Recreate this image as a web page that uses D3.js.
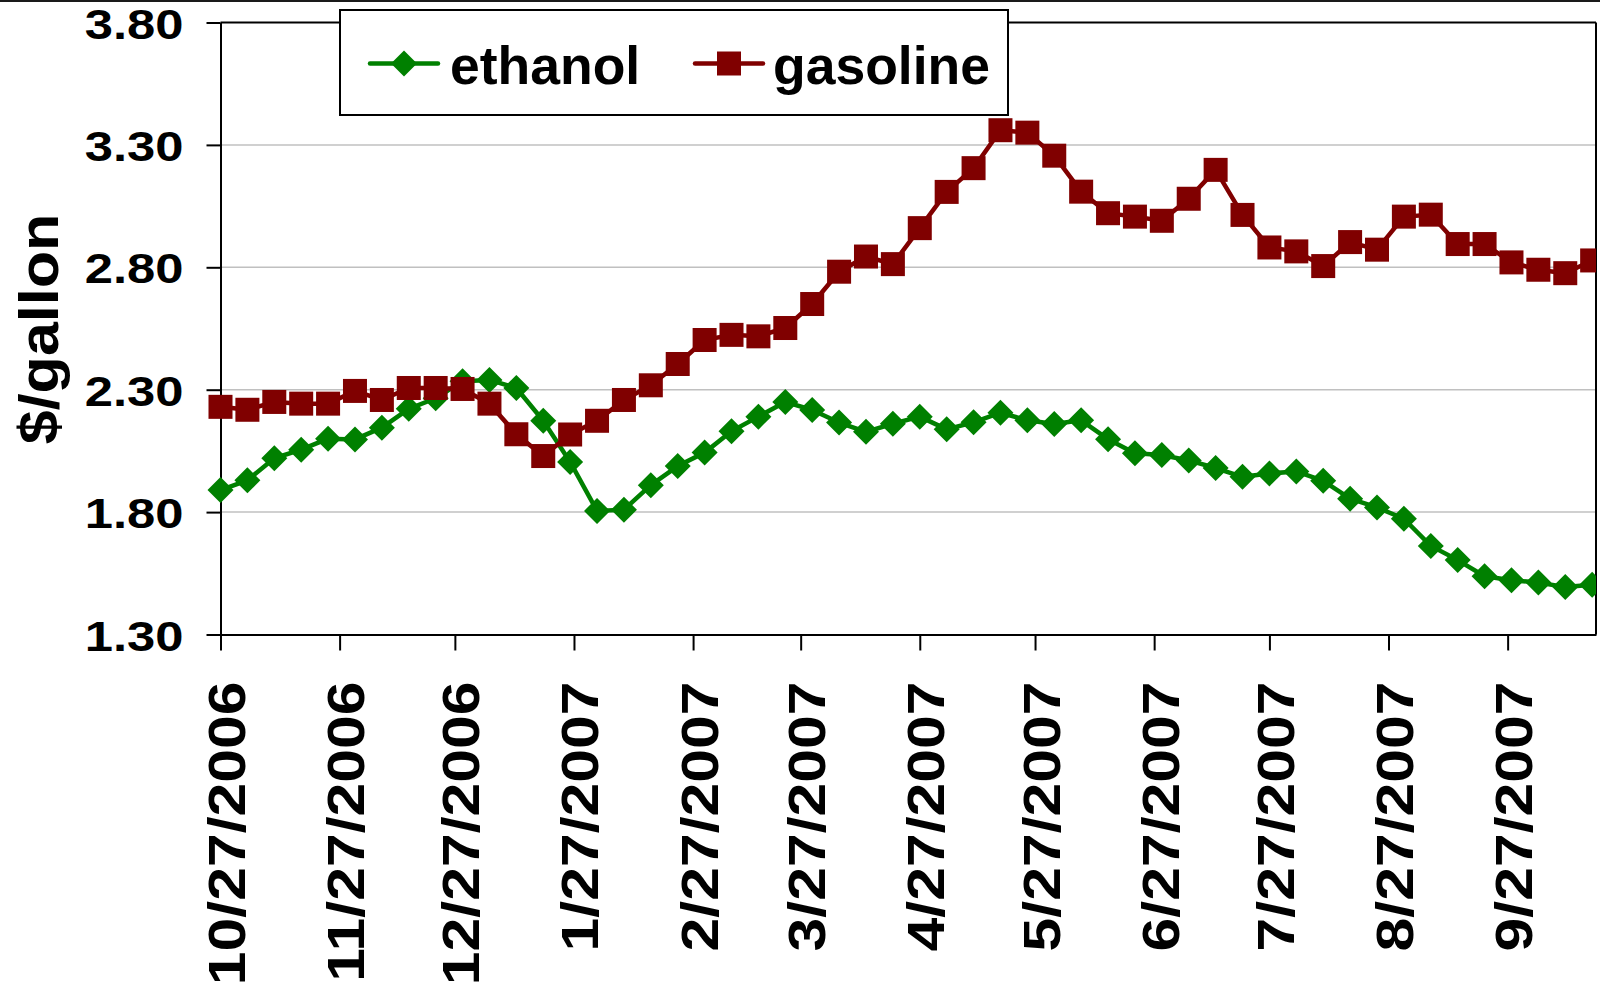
<!DOCTYPE html>
<html>
<head>
<meta charset="utf-8">
<script src="https://cdn.jsdelivr.net/npm/d3@7"></script>
<style>
  html, body { margin: 0; padding: 0; background: #fff; }
  svg { display: block; }
  text { font-family: "Liberation Sans", Arial, Helvetica, sans-serif; font-weight: bold; fill: #000; }
</style>
</head>
<body>
<svg id="chart" width="1600" height="984"></svg>
<script>
// ---------------- data ----------------
const dates = [
  "2006-10-27","2006-11-03","2006-11-10","2006-11-17","2006-11-24","2006-12-01","2006-12-08","2006-12-15","2006-12-22","2006-12-29",
  "2007-01-05","2007-01-12","2007-01-19","2007-01-26","2007-02-02","2007-02-09","2007-02-16","2007-02-23","2007-03-02","2007-03-09",
  "2007-03-16","2007-03-23","2007-03-30","2007-04-06","2007-04-13","2007-04-20","2007-04-27","2007-05-04","2007-05-11","2007-05-18",
  "2007-05-25","2007-06-01","2007-06-08","2007-06-15","2007-06-22","2007-06-29","2007-07-06","2007-07-13","2007-07-20","2007-07-27",
  "2007-08-03","2007-08-10","2007-08-17","2007-08-24","2007-08-31","2007-09-07","2007-09-14","2007-09-21","2007-09-28","2007-10-05",
  "2007-10-12","2007-10-19"
];
const ethanol = [
  1.89, 1.93, 2.02, 2.055, 2.10, 2.097, 2.145, 2.222, 2.265, 2.335,
  2.34, 2.307, 2.173, 2.005, 1.805, 1.81, 1.91, 1.988, 2.043, 2.13,
  2.19, 2.25, 2.217, 2.166, 2.128, 2.161, 2.19, 2.138, 2.167, 2.206,
  2.175, 2.16, 2.175, 2.098, 2.04, 2.033, 2.011, 1.98, 1.944, 1.958,
  1.966, 1.928, 1.855, 1.819, 1.773, 1.662, 1.604, 1.538, 1.522, 1.512,
  1.494, 1.503
];
const gasoline = [
  2.23, 2.218, 2.25, 2.243, 2.243, 2.295, 2.258, 2.307, 2.307, 2.303,
  2.243, 2.118, 2.029, 2.117, 2.173, 2.258, 2.318, 2.405, 2.503, 2.524,
  2.518, 2.552, 2.65, 2.782, 2.844, 2.813, 2.96, 3.108, 3.205, 3.36,
  3.35, 3.256, 3.109, 3.021, 3.007, 2.99, 3.08, 3.198, 3.014, 2.881,
  2.865, 2.805, 2.903, 2.872, 3.007, 3.015, 2.895, 2.895, 2.82, 2.79,
  2.776, 2.828
];
const seriesNames = ["ethanol", "gasoline"];
const seriesColors = ["#008000", "#800000"];
const yTicks = [1.30, 1.80, 2.30, 2.80, 3.30, 3.80];
const xTickLabels = ["10/27/2006","11/27/2006","12/27/2006","1/27/2007","2/27/2007","3/27/2007",
                     "4/27/2007","5/27/2007","6/27/2007","7/27/2007","8/27/2007","9/27/2007"];
const yTitle = "$/gallon";

// ---------------- layout ----------------
const svg = d3.select("#chart");
const W = 1600, H = 984;
const plot = { left: 220.5, right: 1596, top: 22.5, bottom: 634.5 };

svg.append("rect").attr("width", W).attr("height", H).attr("fill", "#fff");

const parse = d3.utcParse("%Y-%m-%d");
const parseTick = d3.utcParse("%m/%d/%Y");
const dateObjs = dates.map(parse);
const tickDates = xTickLabels.map(parseTick);

const x = d3.scaleUtc()
  .domain([dateObjs[0], d3.utcDay.offset(dateObjs[dateObjs.length - 1], 1)])
  .range([plot.left, plot.right]);
const y = d3.scaleLinear().domain([1.30, 3.80]).range([plot.bottom, plot.top]);

// outer chart border (top edge visible)
svg.append("line").attr("x1", 0).attr("x2", W).attr("y1", 1).attr("y2", 1)
  .attr("stroke", "#1a1a1a").attr("stroke-width", 2);

// gridlines
svg.append("g").selectAll("line")
  .data(yTicks.filter(v => v > 1.30 && v < 3.80))
  .join("line")
  .attr("x1", plot.left).attr("x2", plot.right)
  .attr("y1", d => y(d)).attr("y2", d => y(d))
  .attr("stroke", "#c0c0c0").attr("stroke-width", 1.5);

// plot frame top + right
svg.append("line").attr("x1", plot.left).attr("x2", plot.right)
  .attr("y1", y(3.80)).attr("y2", y(3.80)).attr("stroke", "#000").attr("stroke-width", 2);
svg.append("line").attr("x1", plot.right).attr("x2", plot.right)
  .attr("y1", plot.top).attr("y2", plot.bottom).attr("stroke", "#000").attr("stroke-width", 2);

// y axis
const yAxis = svg.append("g").attr("transform", `translate(${plot.left},0)`)
  .call(d3.axisLeft(y).tickValues(yTicks).tickSize(14).tickSizeOuter(0).tickFormat(d3.format(".2f")));
yAxis.select(".domain").attr("stroke", "#000").attr("stroke-width", 2);
yAxis.selectAll(".tick line").attr("stroke", "#000").attr("stroke-width", 2);
yAxis.selectAll(".tick text")
  .attr("x", null).attr("dy", null)
  .attr("transform", "translate(-37,15.5) scale(1.18,1)")
  .attr("text-anchor", "end")
  .style("font-size", "43px").style("font-family", '"Liberation Sans", Arial, sans-serif').style("font-weight", "bold")
  .attr("fill", "#000");

// x axis
const xAxis = svg.append("g").attr("transform", `translate(0,${plot.bottom})`)
  .call(d3.axisBottom(x).tickValues(tickDates).tickSize(16).tickSizeOuter(0)
    .tickFormat((d, i) => xTickLabels[i]));
xAxis.select(".domain").attr("stroke", "#000").attr("stroke-width", 2);
xAxis.selectAll(".tick line").attr("stroke", "#000").attr("stroke-width", 2);
xAxis.selectAll(".tick text")
  .attr("y", null).attr("dy", null)
  .attr("transform", "translate(24,47) rotate(-90) scale(1.19,1)")
  .attr("text-anchor", "end")
  .style("font-size", "51px").style("font-family", '"Liberation Sans", Arial, sans-serif').style("font-weight", "bold")
  .attr("fill", "#000");

// y title
svg.append("text")
  .attr("transform", `translate(58,329) rotate(-90) scale(1.09,1)`)
  .attr("text-anchor", "middle")
  .style("font-size", "56px")
  .text(yTitle);

// clip (markers cut at right frame)
svg.append("defs").append("clipPath").attr("id", "clip")
  .append("rect").attr("x", 0).attr("y", 0).attr("width", plot.right).attr("height", H);

const diamond = "M0,-13L13,0L0,13L-13,0Z";
const seriesData = [ethanol, gasoline];
const lineGen = d3.line().x(d => x(d.date)).y(d => y(d.v));

const seriesG = svg.append("g").attr("clip-path", "url(#clip)");
seriesData.forEach((vals, si) => {
  const pts = vals.map((v, i) => ({ date: dateObjs[i], v }));
  const g = seriesG.append("g");
  g.append("path").datum(pts)
    .attr("d", lineGen).attr("fill", "none")
    .attr("stroke", seriesColors[si]).attr("stroke-width", 4.5)
    .attr("stroke-linejoin", "round");
  if (si === 0) {
    g.selectAll("path.m").data(pts).join("path").attr("class", "m")
      .attr("d", diamond)
      .attr("transform", d => `translate(${x(d.date)},${y(d.v)})`)
      .attr("fill", seriesColors[si]);
  } else {
    g.selectAll("rect.m").data(pts).join("rect").attr("class", "m")
      .attr("x", d => x(d.date) - 12).attr("y", d => y(d.v) - 12)
      .attr("width", 24).attr("height", 24)
      .attr("fill", seriesColors[si]);
  }
});

// legend
const legend = svg.append("g");
legend.append("rect").attr("x", 340).attr("y", 10).attr("width", 668).attr("height", 105)
  .attr("fill", "#fff").attr("stroke", "#000").attr("stroke-width", 2);
const legItems = [
  { x0: 370, x1: 438, tx: 450 },
  { x0: 695, x1: 763, tx: 773 }
];
seriesNames.forEach((name, i) => {
  const it = legItems[i];
  const cy = 63.5, cx = (it.x0 + it.x1) / 2;
  legend.append("line").attr("x1", it.x0).attr("x2", it.x1).attr("y1", cy).attr("y2", cy)
    .attr("stroke", seriesColors[i]).attr("stroke-width", 4.5).attr("stroke-linecap", "round");
  if (i === 0) {
    legend.append("path").attr("d", diamond).attr("transform", `translate(${cx},${cy})`).attr("fill", seriesColors[i]);
  } else {
    legend.append("rect").attr("x", cx - 12).attr("y", cy - 12).attr("width", 24).attr("height", 24).attr("fill", seriesColors[i]);
  }
  legend.append("text").attr("x", it.tx).attr("y", 84).style("font-size", "53.5px").text(name);
});
</script>
</body>
</html>
